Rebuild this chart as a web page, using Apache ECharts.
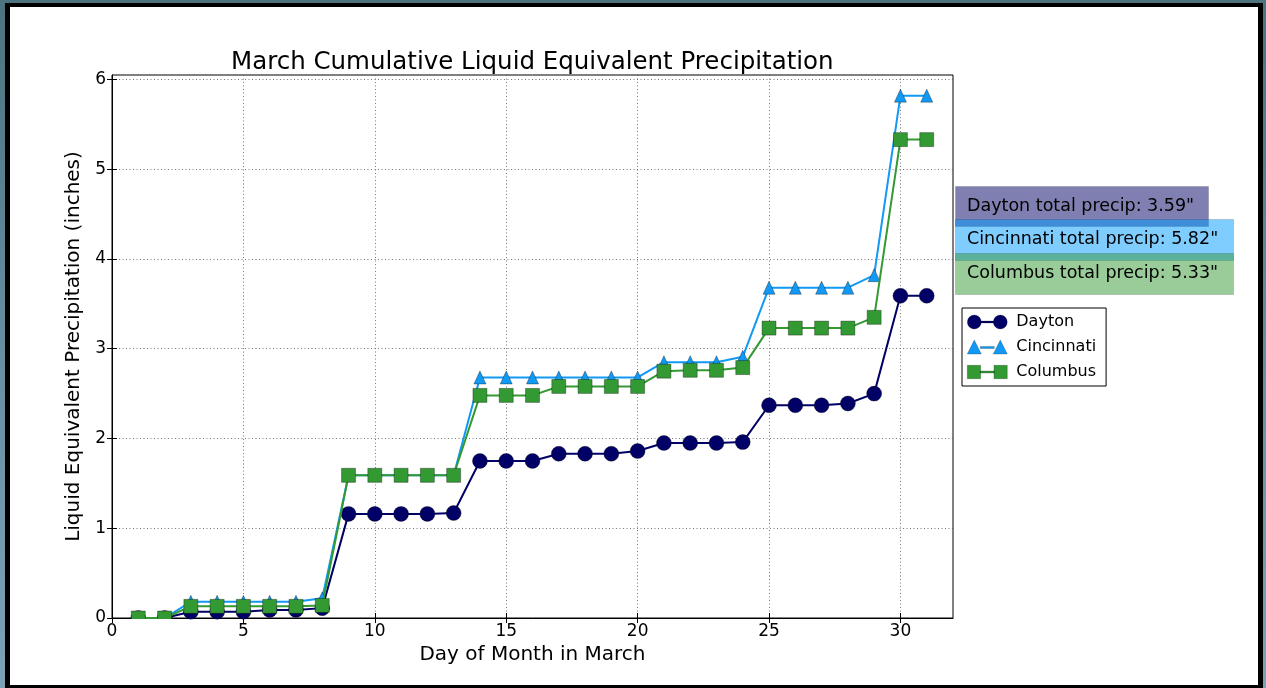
<!DOCTYPE html>
<html>
<head>
<meta charset="utf-8">
<title>March Cumulative Liquid Equivalent Precipitation</title>
<script src="https://cdn.jsdelivr.net/npm/echarts@6/dist/echarts.min.js"></script>
<style>
  html, body { margin: 0; padding: 0; }
  body {
    width: 1266px; height: 688px; overflow: hidden; position: relative;
    background: linear-gradient(180deg, #4d737f 0%, #6a93a6 60%, #7ba3b8 100%);
  }
  #frame {
    position: absolute; left: 5px; top: 3px; width: 1248px; height: 678px;
    border: 5px solid #000; border-top-width: 4px; background: #fff;
  }
  #chart { position: absolute; left: 0; top: 0; width: 1266px; height: 688px; }
</style>
</head>
<body>
<div id="frame"></div>
<div id="chart"></div>
<script>
// day of month
const days = [1, 2, 3, 4, 5, 6, 7, 8, 9, 10, 11, 12, 13, 14, 15, 16,
  17, 18, 19, 20, 21, 22, 23, 24, 25, 26, 27, 28, 29, 30, 31];

// cumulative precipitation, inches
const dayton = [0, 0, 0.07, 0.07, 0.07, 0.09, 0.09, 0.11, 1.16, 1.16, 1.16, 1.16, 1.17,
  1.75, 1.75, 1.75, 1.83, 1.83, 1.83, 1.86, 1.95, 1.95, 1.95, 1.96,
  2.37, 2.37, 2.37, 2.39, 2.50, 3.59, 3.59];
const cincinnati = [0, 0, 0.18, 0.18, 0.18, 0.18, 0.18, 0.22, 1.59, 1.59, 1.59, 1.59, 1.59,
  2.68, 2.68, 2.68, 2.68, 2.68, 2.68, 2.68, 2.85, 2.85, 2.85, 2.91,
  3.68, 3.68, 3.68, 3.68, 3.82, 5.82, 5.82];
const columbus = [0, 0, 0.13, 0.13, 0.13, 0.13, 0.13, 0.14, 1.59, 1.59, 1.59, 1.59, 1.59,
  2.48, 2.48, 2.48, 2.58, 2.58, 2.58, 2.58, 2.75, 2.76, 2.76, 2.79,
  3.23, 3.23, 3.23, 3.23, 3.35, 5.33, 5.33];

const cityNames = ['Dayton', 'Cincinnati', 'Columbus'];
const xTicks = [0, 5, 10, 15, 20, 25, 30];
const yTicks = [0, 1, 2, 3, 4, 5, 6];

const FONT = 'DejaVu Sans';
const colors = { Dayton: '#000066', Cincinnati: '#1199f5', Columbus: '#339933' };
const boxColors = {
  Dayton: 'rgba(0, 0, 102, 0.5)',
  Cincinnati: 'rgba(0, 153, 255, 0.5)',
  Columbus: 'rgba(51, 153, 51, 0.5)'
};

// legend icons: two markers joined by a line, like the matplotlib legend
const icons = {
  Dayton: 'path://M0,7 A7,7 0 1 1 14,7 A7,7 0 1 1 0,7 Z M26,7 A7,7 0 1 1 40,7 A7,7 0 1 1 26,7 Z M13,6 L27,6 L27,8 L13,8 Z',
  Cincinnati: 'path://M0,14 L7,0 L14,14 Z M26,14 L33,0 L40,14 Z M13,6.5 L27,6.5 L27,8.5 L13,8.5 Z',
  Columbus: 'path://M0.5,0.5 L13.5,0.5 L13.5,13.5 L0.5,13.5 Z M26.5,0.5 L39.5,0.5 L39.5,13.5 L26.5,13.5 Z M13,6 L27,6 L27,8 L13,8 Z'
};

const seriesData = { Dayton: dayton, Cincinnati: cincinnati, Columbus: columbus };
const symbols = {
  Dayton: { symbol: 'circle', size: 15 },
  Cincinnati: { symbol: 'triangle', size: [12, 13] },
  Columbus: { symbol: 'rect', size: 14 }
};

const chart = echarts.init(document.getElementById('chart'), null, { renderer: 'canvas' });

const gridLine = { show: true, lineStyle: { color: '#555', type: [1, 2.5], width: 0.8 } };

function innerTick(values) {
  return { show: true, inside: true, length: 5, customValues: values, lineStyle: { color: '#000', width: 1 } };
}

// annotation boxes with totals, placed beside the plot
const boxLayout = [
  { name: 'Dayton', x: 955, y: 186, w: 253, h: 40 },
  { name: 'Cincinnati', x: 955, y: 219, w: 278, h: 41 },
  { name: 'Columbus', x: 955, y: 253, w: 278, h: 41 }
];
const graphics = [
  // markers sitting on y = 0 are cut at the axis in the original
  { type: 'rect', left: 126, top: 619, z: 10, shape: { width: 50, height: 9 }, style: { fill: '#fff' } }
];
boxLayout.forEach(function (b) {
  const vals = seriesData[b.name];
  graphics.push({
    type: 'rect', left: b.x, top: b.y, z: 10,
    shape: { width: b.w, height: b.h },
    style: { fill: boxColors[b.name], stroke: 'rgba(0,0,0,0.15)', lineWidth: 1 }
  });
  graphics.push({
    type: 'text', x: b.x + 12, y: b.y + b.h / 2, z: 11,
    style: {
      text: b.name + ' total precip: ' + vals[vals.length - 1].toFixed(2) + '"',
      fill: '#000', font: '17.5px "' + FONT + '"', verticalAlign: 'middle'
    }
  });
});

const option = {
  animation: false,
  textStyle: { fontFamily: FONT },
  title: {
    text: 'March Cumulative Liquid Equivalent Precipitation',
    left: 226, top: 45,
    textStyle: { fontFamily: FONT, fontSize: 24.5, fontWeight: 'normal', color: '#000' }
  },
  grid: {
    left: 112, top: 75, width: 841, height: 543,
    show: true, borderColor: '#000', borderWidth: 1, backgroundColor: 'transparent'
  },
  legend: {
    orient: 'vertical', left: 962, top: 308,
    padding: [6, 10, 6, 5], itemWidth: 40, itemHeight: 14, itemGap: 9,
    borderColor: '#000', borderWidth: 1, backgroundColor: '#fff',
    textStyle: { fontFamily: FONT, fontSize: 16, color: '#000', padding: [0, 0, 0, 4] },
    data: cityNames.map(n => ({
      name: n, icon: icons[n],
      itemStyle: { borderWidth: 0.6, borderColor: 'rgba(0,0,0,0.35)' }
    }))
  },
  xAxis: [{
    type: 'value', min: 0, max: 32, interval: 5,
    name: 'Day of Month in March', nameLocation: 'middle', nameGap: 26,
    nameTextStyle: { fontFamily: FONT, fontSize: 20, color: '#000' },
    axisLine: { show: true, onZero: false, lineStyle: { color: '#000', width: 1 } },
    axisTick: innerTick(xTicks),
    axisLabel: { margin: 5, fontFamily: FONT, fontSize: 17, color: '#000', customValues: xTicks },
    splitLine: gridLine
  }, {
    type: 'value', position: 'top', min: 0, max: 32, interval: 5,
    axisLine: { show: false }, axisTick: innerTick(xTicks),
    axisLabel: { show: false }, splitLine: { show: false }
  }],
  yAxis: [{
    type: 'value', min: 0, max: 6.05, interval: 1,
    name: 'Liquid Equivalent Precipitation (inches)', nameLocation: 'middle', nameGap: 18,
    nameTextStyle: { fontFamily: FONT, fontSize: 20, color: '#000' },
    axisLine: { show: true, onZero: false, lineStyle: { color: '#000', width: 1 } },
    axisTick: innerTick(yTicks),
    axisLabel: { margin: 6, fontFamily: FONT, fontSize: 17, color: '#000', customValues: yTicks },
    splitLine: gridLine
  }, {
    type: 'value', position: 'right', min: 0, max: 6.05, interval: 1,
    axisLine: { show: false }, axisTick: innerTick(yTicks),
    axisLabel: { show: false }, splitLine: { show: false }
  }],
  series: cityNames.map(function (name, i) {
    return {
      name: name,
      type: 'line',
      xAxisIndex: 0, yAxisIndex: 0,
      z: 2 + i,
      data: days.map((d, k) => [d, seriesData[name][k]]),
      symbol: symbols[name].symbol,
      symbolSize: symbols[name].size,
      showAllSymbol: true,
      lineStyle: { color: colors[name], width: 2 },
      itemStyle: { color: colors[name], borderColor: 'rgba(0,0,0,0.55)', borderWidth: 0.6 },
      emphasis: { disabled: true }
    };
  }),
  graphic: graphics
};

chart.setOption(option);
</script>
</body>
</html>
